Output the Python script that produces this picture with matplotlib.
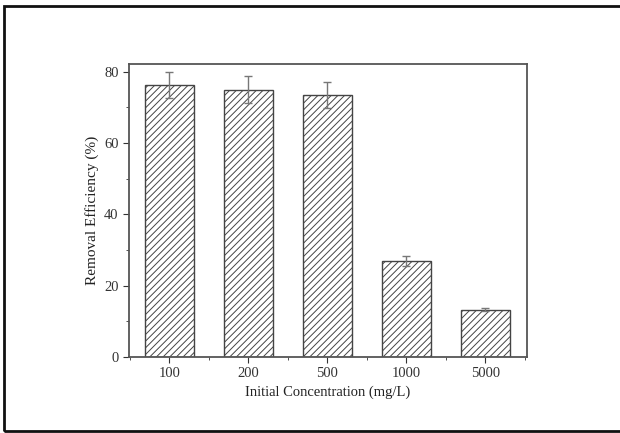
import matplotlib
matplotlib.use("Agg")
import matplotlib.pyplot as plt
from matplotlib.patches import Rectangle
from matplotlib.ticker import MultipleLocator

categories = ["100", "200", "500", "1000", "5000"]
values = [76.4, 75.0, 73.5, 27.0, 13.3]
errors = [3.6, 3.7, 3.6, 1.4, 0.5]

plt.rcParams['font.family'] = ['Liberation Serif', 'DejaVu Serif']
plt.rcParams['hatch.color'] = '#888888'
plt.rcParams['hatch.linewidth'] = 0.7

fig = plt.figure(figsize=(6.2, 4.33), dpi=100)
fig.patches.append(Rectangle((4/620, 2/433), 1.0, 425/433, transform=fig.transFigure,
                             fill=False, edgecolor='#111111', linewidth=2.0))
ax = fig.add_axes([129/620, 1-357/433, (527-129)/620, (357-64)/433])

x = list(range(len(categories)))
ax.bar(x, values, width=0.62, color='white', edgecolor='#444444', linewidth=1.0,
       hatch='/////', zorder=2)
ax.errorbar(x, values, yerr=errors, fmt='none', ecolor='#777777', elinewidth=1.0,
            capsize=3, capthick=1.0, zorder=3)

ax.set_xlim(-0.51, 4.53)
ax.set_ylim(0, 82.2)
ax.set_xticks(x)
ax.set_xticklabels(categories)
ax.yaxis.set_major_locator(MultipleLocator(20))
ax.yaxis.set_minor_locator(MultipleLocator(10))
ax.xaxis.set_minor_locator(MultipleLocator(0.5))
ax.tick_params(axis='both', which='both', direction='out', labelsize=10.5, colors='#333333')
ax.tick_params(which='major', length=4)
ax.tick_params(which='minor', length=2)
for s in ax.spines.values():
    s.set_linewidth(1.3)
    s.set_color('#555555')

ax.set_xlabel("Initial Concentration (mg/L)", fontsize=10.5, labelpad=4, color='#222222')
ax.set_ylabel("Removal Efficiency (%)", fontsize=11, labelpad=4, color='#222222')

fig.savefig("out.png", dpi=100)
